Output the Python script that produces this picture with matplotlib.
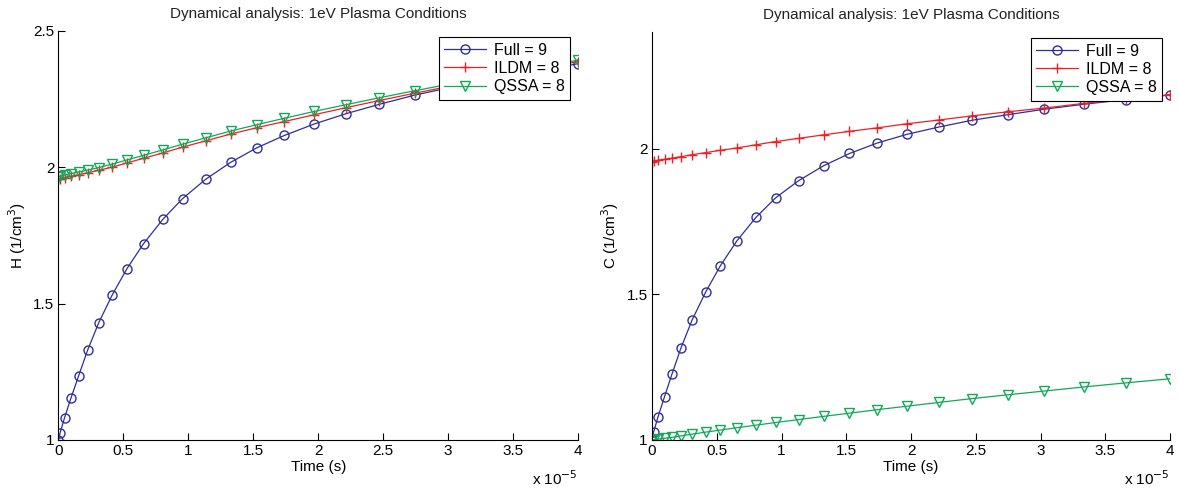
import matplotlib.pyplot as plt

plt.rcParams['font.family'] = ['Liberation Sans', 'DejaVu Sans']

# time grid of the solver output, in units of 1e-5 s
time_e5 = [0, 0.013, 0.047, 0.097, 0.155, 0.224, 0.31, 0.415, 0.527, 0.655,
           0.805, 0.955, 1.133, 1.325, 1.525, 1.74, 1.97, 2.217, 2.47, 2.745,
           3.03, 3.335, 3.66, 4.0]

# H concentration
h_full = [1.0, 1.027, 1.082, 1.155, 1.235, 1.329, 1.43, 1.533, 1.628, 1.72,
          1.81, 1.885, 1.956, 2.018, 2.071, 2.117, 2.159, 2.197, 2.231, 2.265,
          2.294, 2.322, 2.35, 2.38]
h_ildm = [1.956, 1.958, 1.962, 1.967, 1.973, 1.98, 1.989, 2.001, 2.016, 2.033,
          2.053, 2.074, 2.097, 2.122, 2.145, 2.168, 2.193, 2.219, 2.245, 2.272,
          2.299, 2.326, 2.356, 2.388]
h_qssa = [1.966, 1.968, 1.972, 1.977, 1.983, 1.99, 1.999, 2.012, 2.027, 2.044,
          2.064, 2.085, 2.108, 2.133, 2.156, 2.18, 2.205, 2.23, 2.255, 2.281,
          2.307, 2.334, 2.362, 2.393]

# C concentration
c_full = [1.0, 1.028, 1.08, 1.149, 1.227, 1.316, 1.412, 1.508, 1.597, 1.683,
          1.765, 1.831, 1.89, 1.941, 1.983, 2.019, 2.049, 2.074, 2.097, 2.116,
          2.135, 2.152, 2.168, 2.184]
c_ildm = [1.955, 1.957, 1.96, 1.963, 1.967, 1.972, 1.979, 1.986, 1.994, 2.002,
          2.013, 2.024, 2.035, 2.047, 2.059, 2.071, 2.085, 2.098, 2.112, 2.126,
          2.139, 2.155, 2.169, 2.185]
c_qssa = [1.0, 1.001, 1.003, 1.006, 1.009, 1.014, 1.02, 1.027, 1.034, 1.042,
          1.051, 1.06, 1.07, 1.081, 1.092, 1.104, 1.116, 1.129, 1.142, 1.155,
          1.168, 1.182, 1.196, 1.21]

labels = ['Full = 9', 'ILDM = 8', 'QSSA = 8']
x_ticks = [0, 0.5, 1, 1.5, 2, 2.5, 3, 3.5, 4]

BLUE = '#2e2e9c'
RED = '#ec2027'
GREEN = '#12a858'


def draw_panel(ax, full, ildm, qssa, ylabel, ylim, yticks):
    ax.plot(time_e5, full, color=BLUE, marker='o', markersize=6.5,
            markerfacecolor='none', lw=0.9, label=labels[0])
    ax.plot(time_e5, ildm, color=RED, marker='+', markersize=7,
            lw=0.9, label=labels[1])
    ax.plot(time_e5, qssa, color=GREEN, marker='v', markersize=6.5,
            markerfacecolor='none', lw=0.9, label=labels[2])

    ax.set_xlim(0, 4)
    ax.set_ylim(*ylim)
    ax.set_xticks(x_ticks)
    ax.set_xticklabels(['%g' % t for t in x_ticks])
    ax.set_yticks(yticks)
    ax.set_yticklabels(['%g' % t for t in yticks])
    ax.tick_params(direction='in', length=5, width=0.8, labelsize=11,
                   pad=3, colors='black')
    for side in ('top', 'right'):
        ax.spines[side].set_visible(False)
    for side in ('left', 'bottom'):
        ax.spines[side].set_linewidth(0.8)

    ax.set_title('Dynamical analysis: 1eV Plasma Conditions', fontsize=11,
                 color='#222222', pad=9)
    ax.set_xlabel('Time (s)', fontsize=11, labelpad=1)
    ax.set_ylabel(ylabel, fontsize=11, labelpad=4)
    ax.text(1.0, -0.072, r'x 10$^{-5}$', transform=ax.transAxes,
            ha='right', va='top', fontsize=11)

    leg = ax.legend(loc='upper right', bbox_to_anchor=(0.985, 0.985),
                    fontsize=11.5, frameon=True, fancybox=False, framealpha=1,
                    handlelength=2.6, handletextpad=0.5, borderpad=0.35,
                    labelspacing=0.2, borderaxespad=0)
    leg.get_frame().set_edgecolor('black')
    leg.get_frame().set_linewidth(0.8)


fig = plt.figure(figsize=(11.79, 4.91), dpi=100)
ax1 = fig.add_axes([0.0496, 0.1039, 0.4406, 0.833])
ax2 = fig.add_axes([0.553, 0.1039, 0.4394, 0.831])

draw_panel(ax1, h_full, h_ildm, h_qssa, 'H (1/cm$^3$)', (1, 2.5), [1, 1.5, 2, 2.5])
draw_panel(ax2, c_full, c_ildm, c_qssa, 'C (1/cm$^3$)', (1, 2.4), [1, 1.5, 2])

fig.savefig('out.png', dpi=100)
